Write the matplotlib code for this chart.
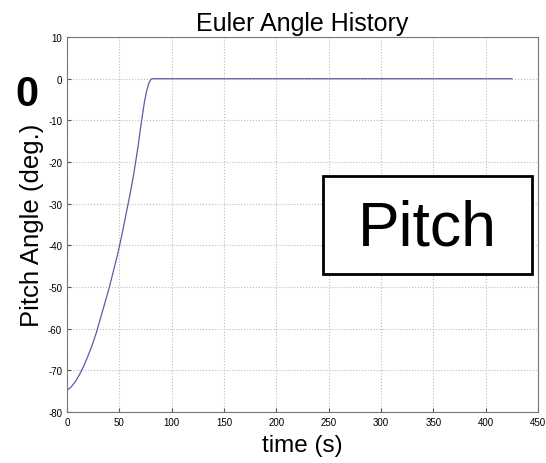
import matplotlib
matplotlib.use("Agg")
import matplotlib.pyplot as plt
from matplotlib.patches import Rectangle

plt.rcParams['font.family'] = ['Liberation Sans', 'DejaVu Sans']
plt.rcParams['axes.unicode_minus'] = False

# pitch angle history (deg) vs time (s)
t = [0, 4, 8, 12, 16, 20, 24, 28, 32, 36, 40, 44, 48, 52, 56, 60, 64, 68, 71, 74, 76, 78, 80, 81,
     150, 250, 300, 350, 425]
pitch = [-74.8, -74, -72.7, -71, -69, -66.6, -64, -61, -57.5, -54, -50.5, -46.5, -42.5, -38, -33,
         -28, -22.5, -16, -10.5, -5.5, -3, -1.2, -0.2, 0,
         0, 0, 0, 0, 0]

xticks = [0, 50, 100, 150, 200, 250, 300, 350, 400, 450]
yticks = [-80, -70, -60, -50, -40, -30, -20, -10, 0, 10]

fig = plt.figure(figsize=(5.46, 4.64), dpi=100)
ax = fig.add_axes([0.1227, 0.110, 0.863, 0.808])

ax.plot(t, pitch, color='#5b5ca8', lw=0.9)

ax.set_xlim(0, 450)
ax.set_ylim(-80, 10)
ax.set_xticks(xticks)
ax.set_yticks(yticks)
ax.tick_params(direction='in', labelsize=7, length=3, color='#555555')
ax.grid(color='#bbbbbb', ls=':', lw=0.8)
for s in ax.spines.values():
    s.set_color('#777777')

ax.set_title("Euler Angle History", fontsize=18, pad=5)
ax.set_xlabel("time (s)", fontsize=17.5, labelpad=5)
ax.set_ylabel("Pitch Angle (deg.)", fontsize=18.5, labelpad=3)

# big "0" marker to the left of the axis
fig.text(0.05, 0.795, "0", fontsize=30, fontweight='bold', ha='center', va='center')

# "Pitch" label box
fig.patches.append(Rectangle((323 / 546, 1 - 275 / 464), 209 / 546, 98 / 464,
                             transform=fig.transFigure, fill=True, facecolor='white',
                             edgecolor='black', lw=2, zorder=5))
fig.text(427 / 546, 1 - 229 / 464, "Pitch", fontsize=45, ha='center', va='center', zorder=6)

fig.savefig('out.png', dpi=100)
